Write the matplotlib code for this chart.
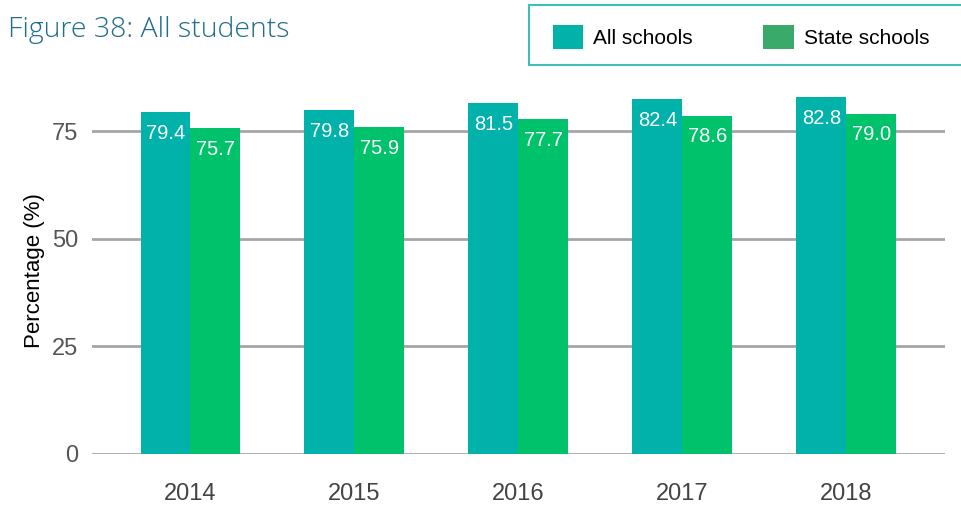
import matplotlib.pyplot as plt
import numpy as np
from matplotlib.patches import Patch, Rectangle

years = ["2014", "2015", "2016", "2017", "2018"]
all_schools = [79.4, 79.8, 81.5, 82.4, 82.8]
state_schools = [75.7, 75.9, 77.7, 78.6, 79.0]

teal = "#00b2a9"
green = "#00c26b"
legend_green = "#3aaa6a"

plt.rcParams['font.family'] = ['Liberation Sans', 'DejaVu Sans']

fig = plt.figure(figsize=(9.62, 5.08), dpi=100)
ax = fig.add_axes([0.0956, 0.1063, 0.8864, 0.7205])

x = np.arange(len(years))
w = 0.304
b1 = ax.bar(x - w / 2, all_schools, w, color=teal, zorder=3)
b2 = ax.bar(x + w / 2, state_schools, w, color=green, zorder=3)

for bars, vals in ((b1, all_schools), (b2, state_schools)):
    for rect, v in zip(bars, vals):
        ax.annotate(f"{v:.1f}", (rect.get_x() + rect.get_width() / 2, v),
                    xytext=(0, -21), textcoords="offset pixels",
                    ha="center", va="center", color="white", fontsize=14.5,
                    zorder=4)

ax.set_xlim(-0.6, len(years) - 0.4)
ax.set_ylim(0, 85)
ax.set_yticks([0, 25, 50, 75])
ax.set_xticks(x)
ax.set_xticklabels(years)
ax.grid(axis="y", color="#a6a6a6", linewidth=2, zorder=0)
for s in ax.spines.values():
    s.set_visible(False)
ax.tick_params(axis="both", length=0, labelsize=17)
ax.tick_params(axis="y", colors="#555555", pad=10)
ax.tick_params(axis="x", colors="#444444", pad=21)
ax.set_ylabel("Percentage (%)", fontsize=16, color="black", labelpad=5)

fig.text(0.008, 0.94, "Figure 38: All students", fontsize=20.5,
         family=["Open Sans", "DejaVu Sans"], fontweight="light",
         color="#1f6e8c", va="center", ha="left")

# legend box
fig.patches.append(Rectangle((529 / 962, 1 - 65 / 508), 0.5, 60 / 508,
                             transform=fig.transFigure, facecolor="white",
                             edgecolor="#3cc0b8", linewidth=1.5,
                             clip_on=False))
handles = [Patch(facecolor=teal, label="All schools"),
           Patch(facecolor=legend_green, label="State schools")]
fig.legend(handles=handles, loc="center left",
           bbox_to_anchor=(534 / 962, 1 - 37 / 508), ncol=2, frameon=False,
           fontsize=15, handlelength=1.45, handleheight=1.45,
           handletextpad=0.48, columnspacing=3.4)

fig.savefig("out.png", dpi=100)
